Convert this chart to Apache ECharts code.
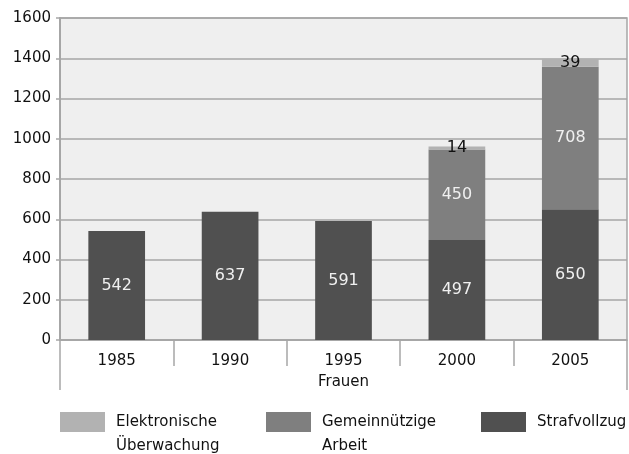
<!DOCTYPE html>
<html><head><meta charset="utf-8">
<script src="https://cdn.jsdelivr.net/npm/echarts@6/dist/echarts.min.js"></script>
<style>html,body{margin:0;padding:0;background:#fff}#c{width:629px;height:454px}</style>
</head><body><div id="c"></div>
<script>
const years = ['1985','1990','1995','2000','2005'];
const groupLabel = ['Frauen'];
const strafvollzug = [542, 637, 591, 497, 650];
const gemeinnuetzig = [null, null, null, 450, 708];
const elektronisch = [null, null, null, 14, 39];
const yTicks = {min: 0, max: 1600, interval: 200};

const font = '"DejaVu Sans", sans-serif';
const chart = echarts.init(document.getElementById('c'));
const lbl = (c) => ({show: true, position: 'inside', color: c, fontSize: 16, fontFamily: font,
  formatter: p => p.value == null ? '' : String(p.value)});
chart.setOption({
  animation: false,
  grid: {left: 60, right: 2, top: 18, bottom: 114, show: true, backgroundColor: '#efefef', borderColor: '#a6a6a6', borderWidth: 1.5},
  xAxis: [
    {type: 'category', data: years, position: 'bottom',
     axisLine: {lineStyle: {color: '#a6a6a6', width: 1.5}},
     axisTick: {show: true, length: 26, lineStyle: {color: '#a6a6a6', width: 1.5}},
     axisLabel: {color: '#111', fontSize: 15, fontFamily: font, margin: 14}},
    {type: 'category', data: groupLabel, position: 'bottom',
     axisLine: {show: false},
     axisTick: {show: true, length: 50, lineStyle: {color: '#a6a6a6', width: 1.5}},
     axisLabel: {color: '#111', fontSize: 15, fontFamily: font, margin: 35}}
  ],
  yAxis: {type: 'value', min: yTicks.min, max: yTicks.max, interval: yTicks.interval,
    axisLine: {show: true, lineStyle: {color: '#a6a6a6', width: 2}},
    axisTick: {show: true, length: 4, lineStyle: {color: '#a6a6a6', width: 1.5}},
    splitLine: {lineStyle: {color: '#a6a6a6', width: 1.5}},
    axisLabel: {color: '#111', fontSize: 15, fontFamily: font, margin: 9, formatter: v => String(v)}},
  legend: [
    {data: ['Elektronische Überwachung'], left: 55, top: 381, itemWidth: 45, itemHeight: 20, icon: 'rect',
     formatter: () => '\nElektronische\nÜberwachung',
     textStyle: {fontSize: 15, fontFamily: font, color: '#111', lineHeight: 24, padding: [0, 0, 0, 6]}},
    {data: ['Gemeinnützige Arbeit'], left: 261, top: 381, itemWidth: 45, itemHeight: 20, icon: 'rect',
     formatter: () => '\nGemeinnützige\nArbeit',
     textStyle: {fontSize: 15, fontFamily: font, color: '#111', lineHeight: 24, padding: [0, 0, 0, 6]}},
    {data: ['Strafvollzug'], left: 476, top: 407, itemWidth: 45, itemHeight: 20, icon: 'rect',
     textStyle: {fontSize: 15, fontFamily: font, color: '#111', padding: [0, 0, 0, 6]}}
  ],
  series: [
    {name: 'Strafvollzug', type: 'bar', stack: 's', barWidth: '50%', data: strafvollzug,
     itemStyle: {color: '#505050'}, label: lbl('#f0f0f0')},
    {name: 'Gemeinnützige Arbeit', type: 'bar', stack: 's', data: gemeinnuetzig,
     itemStyle: {color: '#7f7f7f'}, label: lbl('#f0f0f0')},
    {name: 'Elektronische Überwachung', type: 'bar', stack: 's', data: elektronisch,
     itemStyle: {color: '#b2b2b2'}, label: lbl('#111')}
  ]
});
</script></body></html>
